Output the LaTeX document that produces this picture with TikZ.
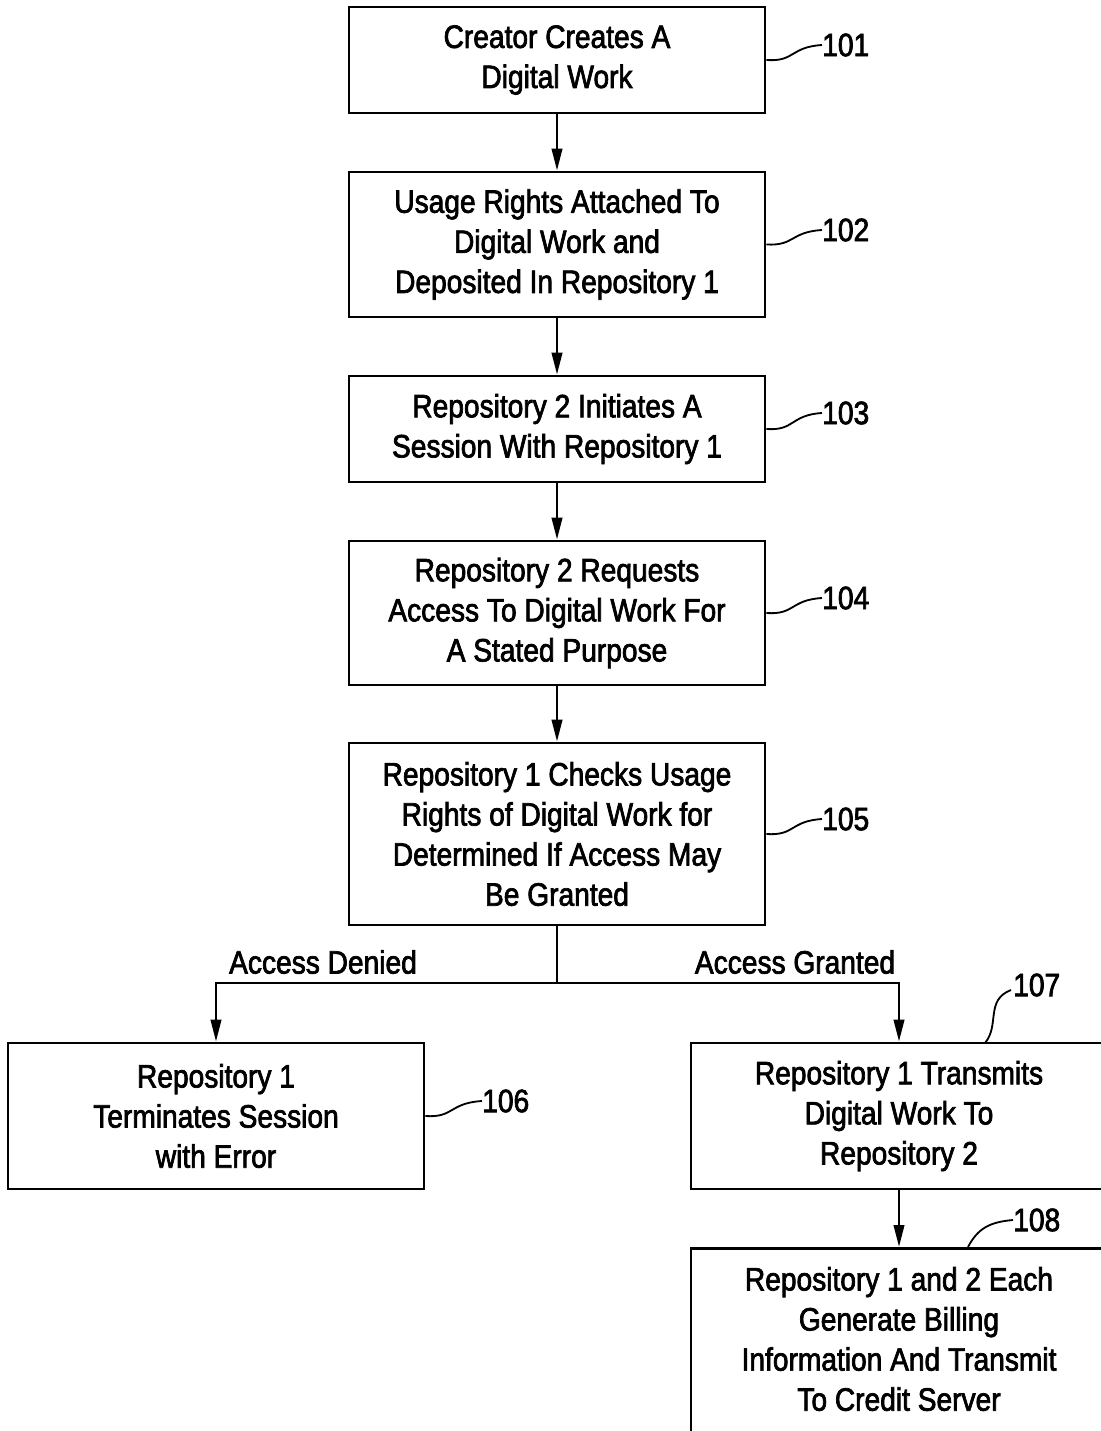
\documentclass[tikz,border=0pt]{standalone}
\usepackage{fontspec}
\setmainfont[FakeStretch=0.87,FakeBold=2.2]{Liberation Sans}
\usetikzlibrary{arrows.meta}
\begin{document}
\begin{tikzpicture}[x=0.025cm,y=-0.025cm,
  every node/.style={font=\fontsize{23}{28.5}\selectfont},
  stepbox/.style={draw,line width=1.9pt,minimum width=10.4cm,inner sep=0pt,align=center},
  arr/.style={line width=1.9pt,-{Triangle[length=0.55cm,width=0.26cm]}},
  lead/.style={line width=1.3pt},
  reflabel/.style={inner sep=0pt,anchor=west}]
\useasboundingbox (0,0) rectangle (1100,1431);
\node[stepbox,minimum height=2.65cm] (n101) at (557,60) {Creator Creates A\\Digital Work};
\node[stepbox,minimum height=3.625cm] (n102) at (557,244.5) {Usage Rights Attached To\\Digital Work and\\Deposited In Repository 1};
\node[stepbox,minimum height=2.65cm] (n103) at (557,429) {Repository 2 Initiates A\\Session With Repository 1};
\node[stepbox,minimum height=3.6cm] (n104) at (557,613) {Repository 2 Requests\\Access To Digital Work For\\A Stated Purpose};
\node[stepbox,minimum height=4.55cm] (n105) at (557,834) {Repository 1 Checks Usage\\Rights of Digital Work for\\Determined If Access May\\Be Granted};
\node[stepbox,minimum height=3.65cm] (n106) at (216,1116) {Repository 1\\Terminates Session\\with Error};
\node[stepbox,minimum height=3.65cm] (n107) at (899,1116) {Repository 1 Transmits\\Digital Work To\\Repository 2};
\node[stepbox,minimum height=6cm,anchor=north] (n108) at (899,1247) {};
\node[align=center,inner sep=0pt] (n108t) at (899,1339) {Repository 1 and 2 Each\\Generate Billing\\Information And Transmit\\To Credit Server};

\draw[arr] (n101) -- (n102);
\draw[arr] (n102) -- (n103);
\draw[arr] (n103) -- (n104);
\draw[arr] (n104) -- (n105);
\coordinate (br) at (557,983);
\draw[arr] (n105.south) -- (br) -| (n106.north);
\draw[arr] (br) -| (n107.north);
\draw[arr] (n107.south) -- (n108.north);

\node (ad) at (323,962) {Access Denied};
\node (ag) at (795,962) {Access Granted};

% reference labels
\node[reflabel] (l101) at (822,45) {101};
\node[reflabel] (l102) at (822,230) {102};
\node[reflabel] (l103) at (822,413) {103};
\node[reflabel] (l104) at (822,598) {104};
\node[reflabel] (l105) at (822,819) {105};
\node[reflabel] (l106) at (482,1101) {106};
\node[reflabel] (l107) at (1013,985) {107};
\node[reflabel] (l108) at (1013,1220) {108};

\draw[lead] (n101.east) .. controls (795,62) and (790,47) .. (l101.west);
\draw[lead] (n102.east) .. controls (795,246) and (790,232) .. (l102.west);
\draw[lead] (n103.east) .. controls (795,431) and (790,415) .. (l103.west);
\draw[lead] (n104.east) .. controls (795,615) and (790,600) .. (l104.west);
\draw[lead] (n105.east) .. controls (795,836) and (790,821) .. (l105.west);
\draw[lead] (n106.east) .. controls (454,1118) and (449,1103) .. (l106.west);
\coordinate (t107) at (985,1043);
\coordinate (t108) at (968,1247);
\draw[lead] (t107) .. controls (1000,1025) and (985,1000) .. (1011,990);
\draw[lead] (t108) .. controls (978,1228) and (990,1222) .. (l108.west);
\end{tikzpicture}
\end{document}
